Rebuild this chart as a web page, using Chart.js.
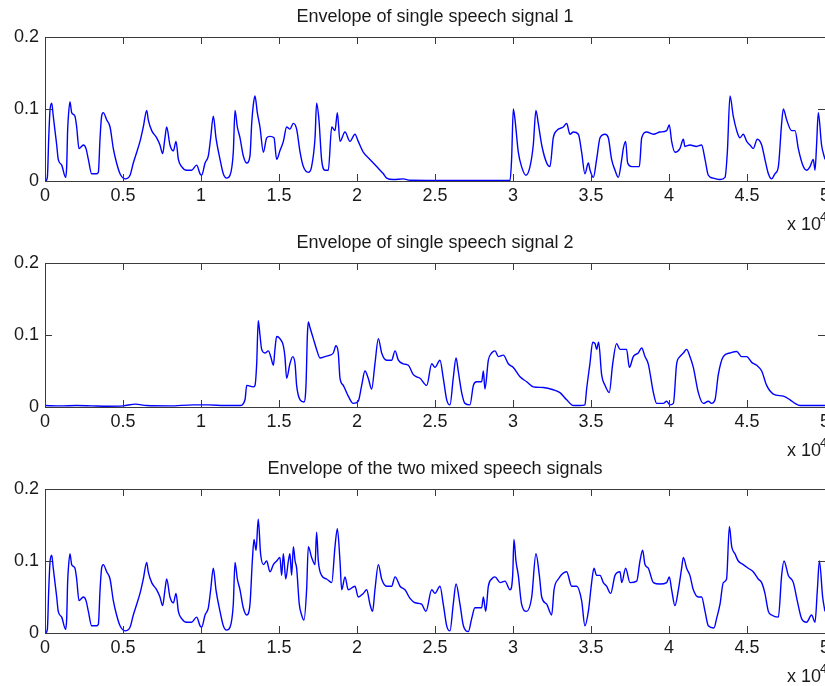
<!DOCTYPE html>
<html>
<head>
<meta charset="utf-8">
<script src="https://cdn.jsdelivr.net/npm/chart.js@4.4.1/dist/chart.umd.min.js"></script>
<style>
  html, body { margin: 0; padding: 0; background: #fff; overflow: hidden; }
  body { width: 825px; height: 686px; position: relative; }
  .plot { position: absolute; left: 0; width: 825px; height: 236px; }
</style>
</head>
<body>
<div class="plot" style="top:0px"><canvas id="env1"></canvas></div>
<div class="plot" style="top:226px"><canvas id="env2"></canvas></div>
<div class="plot" style="top:452px"><canvas id="env3"></canvas></div>
<script>
// x in units of 10^4 samples
const xTicks = [0, 0.5, 1, 1.5, 2, 2.5, 3, 3.5, 4, 4.5, 5];
const yTicks = [0, 0.1, 0.2];
const titles = [
  'Envelope of single speech signal 1',
  'Envelope of single speech signal 2',
  'Envelope of the two mixed speech signals'
];

const sig1X = [0.004,0.015,0.024,0.032,0.043,0.053,0.064,0.075,0.085,0.107,0.132,0.139,0.145,0.15,0.16,0.171,0.192,0.203,0.218,0.246,0.263,0.278,0.299,0.331,0.342,0.353,0.363,0.374,0.395,0.417,0.438,0.459,0.481,0.513,0.545,0.566,0.588,0.609,0.63,0.652,0.662,0.684,0.716,0.737,0.754,0.769,0.78,0.801,0.823,0.84,0.855,0.876,0.908,0.94,0.972,0.994,1.004,1.026,1.047,1.062,1.079,1.096,1.122,1.143,1.164,1.186,1.207,1.218,1.233,1.25,1.271,1.293,1.314,1.325,1.335,1.346,1.361,1.378,1.4,1.421,1.442,1.468,1.485,1.506,1.528,1.549,1.57,1.592,1.613,1.635,1.656,1.688,1.709,1.731,1.741,1.756,1.773,1.795,1.816,1.838,1.859,1.874,1.891,1.923,1.955,1.987,2.008,2.04,2.083,2.126,2.169,2.19,2.233,2.297,2.34,2.5,2.8,2.981,2.991,3.002,3.013,3.034,3.055,3.083,3.109,3.13,3.147,3.162,3.184,3.216,3.237,3.258,3.28,3.322,3.344,3.365,3.387,3.419,3.44,3.461,3.483,3.494,3.515,3.536,3.558,3.59,3.611,3.632,3.654,3.675,3.697,3.707,3.722,3.735,3.761,3.793,3.81,3.825,3.857,3.9,3.942,3.985,4.002,4.017,4.038,4.07,4.092,4.102,4.134,4.177,4.209,4.231,4.252,4.284,4.327,4.359,4.374,4.391,4.412,4.434,4.455,4.476,4.498,4.519,4.54,4.566,4.594,4.615,4.637,4.658,4.679,4.701,4.722,4.733,4.754,4.786,4.808,4.829,4.861,4.882,4.904,4.925,4.936,4.946,4.957,4.978,5.0];
const sig1Y = [0,0.005,0.06,0.098,0.108,0.09,0.07,0.05,0.03,0.022,0.005,0.02,0.07,0.09,0.11,0.095,0.09,0.075,0.045,0.05,0.045,0.03,0.01,0.01,0.012,0.06,0.09,0.095,0.085,0.075,0.045,0.025,0.01,0.003,0.008,0.025,0.04,0.055,0.075,0.098,0.085,0.07,0.06,0.05,0.038,0.06,0.075,0.05,0.042,0.055,0.03,0.02,0.015,0.015,0.022,0.01,0.008,0.025,0.035,0.06,0.09,0.06,0.03,0.01,0.004,0.008,0.04,0.098,0.075,0.06,0.035,0.025,0.035,0.08,0.105,0.118,0.095,0.075,0.04,0.06,0.062,0.06,0.03,0.042,0.055,0.075,0.072,0.08,0.072,0.04,0.02,0.012,0.02,0.06,0.108,0.085,0.03,0.015,0.015,0.075,0.07,0.095,0.055,0.068,0.055,0.065,0.055,0.04,0.03,0.02,0.01,0.004,0.002,0.003,0.001,0.0008,0.0008,0.0008,0.03,0.1,0.085,0.04,0.02,0.008,0.02,0.05,0.098,0.08,0.05,0.025,0.02,0.06,0.07,0.075,0.08,0.065,0.068,0.065,0.04,0.01,0.025,0.015,0.005,0.03,0.06,0.065,0.06,0.03,0.015,0.005,0.03,0.045,0.055,0.025,0.02,0.02,0.02,0.06,0.068,0.065,0.068,0.07,0.078,0.055,0.04,0.045,0.058,0.048,0.05,0.048,0.05,0.03,0.008,0.004,0.002,0.005,0.04,0.118,0.09,0.07,0.06,0.065,0.055,0.05,0.045,0.058,0.05,0.03,0.01,0.003,0.01,0.02,0.08,0.1,0.085,0.07,0.07,0.045,0.02,0.015,0.02,0.03,0.015,0.05,0.095,0.05,0.03];

const sig2X = [0,0.1,0.2,0.3,0.4,0.5,0.58,0.65,0.8,0.95,1.05,1.15,1.25,1.282,1.293,1.335,1.346,1.357,1.367,1.378,1.389,1.41,1.432,1.447,1.464,1.474,1.485,1.506,1.528,1.538,1.549,1.57,1.588,1.603,1.613,1.635,1.66,1.673,1.682,1.688,1.699,1.72,1.741,1.763,1.795,1.827,1.848,1.865,1.88,1.891,1.912,1.944,1.976,2.008,2.03,2.051,2.072,2.094,2.115,2.137,2.158,2.19,2.222,2.244,2.265,2.297,2.329,2.361,2.382,2.404,2.447,2.479,2.5,2.532,2.553,2.575,2.596,2.617,2.635,2.649,2.671,2.692,2.724,2.746,2.767,2.799,2.81,2.82,2.842,2.863,2.885,2.906,2.938,2.97,3.002,3.045,3.088,3.13,3.194,3.258,3.301,3.344,3.387,3.429,3.461,3.472,3.493,3.511,3.526,3.536,3.549,3.568,3.59,3.617,3.639,3.664,3.686,3.728,3.746,3.771,3.803,3.825,3.846,3.867,3.9,3.921,3.964,3.985,4.006,4.028,4.049,4.07,4.092,4.113,4.134,4.156,4.188,4.22,4.252,4.273,4.295,4.316,4.348,4.391,4.434,4.466,4.498,4.53,4.562,4.594,4.626,4.669,4.733,4.776,4.808,4.84,5.0];
const sig2Y = [0.002,0.0015,0.002,0.0015,0.001,0.0015,0.004,0.002,0.0015,0.003,0.003,0.002,0.002,0.01,0.03,0.028,0.03,0.06,0.12,0.1,0.08,0.075,0.078,0.07,0.058,0.08,0.098,0.095,0.085,0.07,0.04,0.06,0.07,0.06,0.03,0.01,0.007,0.03,0.1,0.118,0.11,0.095,0.08,0.068,0.07,0.072,0.075,0.085,0.075,0.04,0.03,0.015,0.005,0.008,0.03,0.05,0.04,0.025,0.06,0.095,0.075,0.065,0.065,0.078,0.065,0.06,0.058,0.045,0.042,0.04,0.03,0.06,0.055,0.065,0.04,0.01,0.003,0.04,0.068,0.05,0.02,0.005,0.003,0.03,0.035,0.035,0.05,0.025,0.065,0.075,0.078,0.07,0.072,0.06,0.055,0.042,0.035,0.028,0.027,0.024,0.02,0.01,0.002,0.002,0.003,0.025,0.06,0.09,0.088,0.08,0.09,0.045,0.03,0.02,0.06,0.088,0.08,0.08,0.055,0.07,0.075,0.082,0.07,0.06,0.02,0.005,0.005,0.008,0.003,0.005,0.06,0.07,0.075,0.08,0.07,0.055,0.02,0.005,0.008,0.005,0.01,0.045,0.07,0.075,0.077,0.07,0.07,0.062,0.058,0.05,0.03,0.018,0.015,0.01,0.005,0.002,0.002];

const mixX = [0.004,0.015,0.024,0.032,0.043,0.053,0.064,0.075,0.085,0.107,0.132,0.139,0.145,0.15,0.16,0.171,0.192,0.203,0.218,0.246,0.263,0.278,0.299,0.331,0.342,0.353,0.363,0.374,0.395,0.417,0.438,0.459,0.481,0.513,0.545,0.566,0.588,0.609,0.63,0.652,0.662,0.684,0.716,0.737,0.754,0.769,0.78,0.801,0.823,0.84,0.855,0.876,0.908,0.94,0.972,0.994,1.004,1.026,1.047,1.062,1.079,1.096,1.122,1.143,1.164,1.186,1.207,1.218,1.233,1.25,1.271,1.293,1.314,1.329,1.34,1.353,1.367,1.382,1.4,1.421,1.442,1.464,1.485,1.506,1.517,1.528,1.543,1.56,1.57,1.581,1.592,1.603,1.613,1.63,1.645,1.66,1.677,1.688,1.709,1.731,1.741,1.752,1.773,1.805,1.838,1.859,1.874,1.891,1.902,1.923,1.944,1.987,2.008,2.04,2.062,2.083,2.1,2.115,2.137,2.158,2.19,2.222,2.244,2.276,2.308,2.34,2.372,2.414,2.442,2.479,2.5,2.532,2.553,2.575,2.596,2.617,2.635,2.66,2.682,2.714,2.735,2.756,2.799,2.81,2.825,2.842,2.863,2.885,2.917,2.949,2.981,2.998,3.006,3.019,3.034,3.055,3.087,3.12,3.147,3.169,3.184,3.216,3.248,3.263,3.291,3.344,3.376,3.408,3.44,3.461,3.483,3.504,3.519,3.536,3.558,3.579,3.6,3.626,3.654,3.686,3.697,3.722,3.75,3.793,3.814,3.831,3.846,3.867,3.9,3.942,3.985,4.002,4.017,4.038,4.06,4.081,4.092,4.113,4.134,4.156,4.188,4.209,4.231,4.252,4.288,4.305,4.327,4.348,4.369,4.387,4.402,4.423,4.444,4.476,4.508,4.54,4.572,4.594,4.615,4.637,4.658,4.701,4.722,4.737,4.765,4.797,4.822,4.85,4.882,4.914,4.936,4.951,4.964,4.985,5.0];
const mixY = [0,0.005,0.06,0.098,0.108,0.09,0.07,0.05,0.03,0.022,0.005,0.02,0.07,0.09,0.11,0.095,0.09,0.075,0.045,0.05,0.045,0.03,0.01,0.01,0.012,0.06,0.09,0.095,0.085,0.075,0.045,0.025,0.01,0.003,0.008,0.025,0.04,0.055,0.075,0.098,0.085,0.07,0.06,0.05,0.038,0.06,0.075,0.05,0.042,0.055,0.03,0.02,0.015,0.015,0.022,0.01,0.008,0.025,0.035,0.06,0.09,0.06,0.03,0.01,0.004,0.008,0.04,0.098,0.075,0.06,0.035,0.025,0.04,0.1,0.13,0.115,0.158,0.11,0.095,0.1,0.085,0.095,0.1,0.105,0.08,0.11,0.075,0.1,0.11,0.08,0.12,0.1,0.09,0.04,0.025,0.018,0.06,0.12,0.105,0.095,0.14,0.1,0.08,0.075,0.07,0.12,0.145,0.1,0.06,0.078,0.06,0.065,0.05,0.055,0.06,0.04,0.03,0.06,0.095,0.075,0.065,0.065,0.078,0.065,0.06,0.048,0.042,0.04,0.03,0.06,0.055,0.065,0.04,0.01,0.003,0.04,0.068,0.04,0.01,0.002,0.02,0.035,0.035,0.05,0.03,0.065,0.075,0.078,0.07,0.072,0.06,0.08,0.13,0.1,0.08,0.04,0.03,0.05,0.11,0.08,0.05,0.04,0.025,0.06,0.075,0.085,0.065,0.065,0.045,0.01,0.03,0.07,0.09,0.08,0.08,0.07,0.065,0.055,0.08,0.085,0.07,0.09,0.07,0.072,0.1,0.115,0.095,0.09,0.07,0.068,0.07,0.078,0.06,0.038,0.06,0.09,0.105,0.09,0.08,0.06,0.05,0.05,0.03,0.01,0.007,0.02,0.04,0.07,0.075,0.148,0.12,0.11,0.1,0.095,0.09,0.085,0.075,0.07,0.055,0.03,0.025,0.022,0.08,0.1,0.08,0.07,0.045,0.02,0.015,0.025,0.015,0.06,0.1,0.05,0.03];

const FONT = "'Liberation Sans', Arial, Helvetica, sans-serif";
const TEXT = '#1a1a1a';
const AXIS = '#3a3a3a';

// MATLAB-like frame, inward ticks, x labels, exponent and title
const matlabAxes = {
  id: 'matlabAxes',
  afterDraw(chart, args, opts) {
    const ctx = chart.ctx;
    const a = chart.chartArea;
    const xs = chart.scales.x, ys = chart.scales.y;
    ctx.save();
    ctx.strokeStyle = AXIS;
    ctx.lineWidth = 1;
    ctx.strokeRect(a.left + 0.5, a.top + 0.5, a.right - a.left, a.bottom - a.top);
    ctx.beginPath();
    xTicks.forEach(v => {
      const px = Math.round(xs.getPixelForValue(v)) + 0.5;
      ctx.moveTo(px, a.bottom); ctx.lineTo(px, a.bottom - 7);
      ctx.moveTo(px, a.top); ctx.lineTo(px, a.top + 7);
    });
    yTicks.forEach(v => {
      const py = Math.round(ys.getPixelForValue(v)) + 0.5;
      ctx.moveTo(a.left, py); ctx.lineTo(a.left + 7, py);
      ctx.moveTo(a.right, py); ctx.lineTo(a.right - 7, py);
    });
    ctx.stroke();

    ctx.fillStyle = TEXT;
    ctx.font = '18px ' + FONT;
    ctx.textAlign = 'center';
    ctx.textBaseline = 'middle';
    xTicks.forEach(v => {
      ctx.fillText(String(v), xs.getPixelForValue(v), a.bottom + 15);
    });
    ctx.fillText(opts.title, (a.left + a.right) / 2, a.top - 20);

    ctx.textAlign = 'left';
    ctx.fillText('x 10', 787, a.bottom + 44);
    ctx.font = '13px ' + FONT;
    ctx.fillText('4', 820, a.bottom + 36);
    ctx.restore();
  }
};

function makeChart(id, xv, yv, title) {
  const pts = xv.map((x, i) => ({ x: x, y: yv[i] }));
  return new Chart(document.getElementById(id), {
    type: 'line',
    data: {
      datasets: [{
        data: pts,
        borderColor: '#0000ff',
        borderWidth: 1.4,
        pointRadius: 0,
        cubicInterpolationMode: 'monotone',
        fill: false
      }]
    },
    options: {
      responsive: true,
      maintainAspectRatio: false,
      animation: false,
      events: [],
      layout: { padding: { top: 37, left: 0, right: 0, bottom: 0 } },
      plugins: {
        legend: { display: false },
        tooltip: { enabled: false },
        matlabAxes: { title: title }
      },
      scales: {
        x: {
          type: 'linear',
          min: 0, max: 5,
          grid: { display: false },
          border: { display: false },
          ticks: { display: false, stepSize: 0.5 },
          afterFit: s => { s.height = 55; }
        },
        y: {
          min: 0, max: 0.2,
          grid: { display: false, drawTicks: false },
          border: { display: false },
          ticks: {
            stepSize: 0.1,
            padding: 6,
            color: TEXT,
            font: { family: FONT, size: 18 },
            callback: v => (v === 0 ? '0' : v.toFixed(1))
          },
          afterFit: s => { s.width = 45; }
        }
      }
    },
    plugins: [matlabAxes]
  });
}

makeChart('env1', sig1X, sig1Y, titles[0]);
makeChart('env2', sig2X, sig2Y, titles[1]);
makeChart('env3', mixX, mixY, titles[2]);
</script>
</body>
</html>
